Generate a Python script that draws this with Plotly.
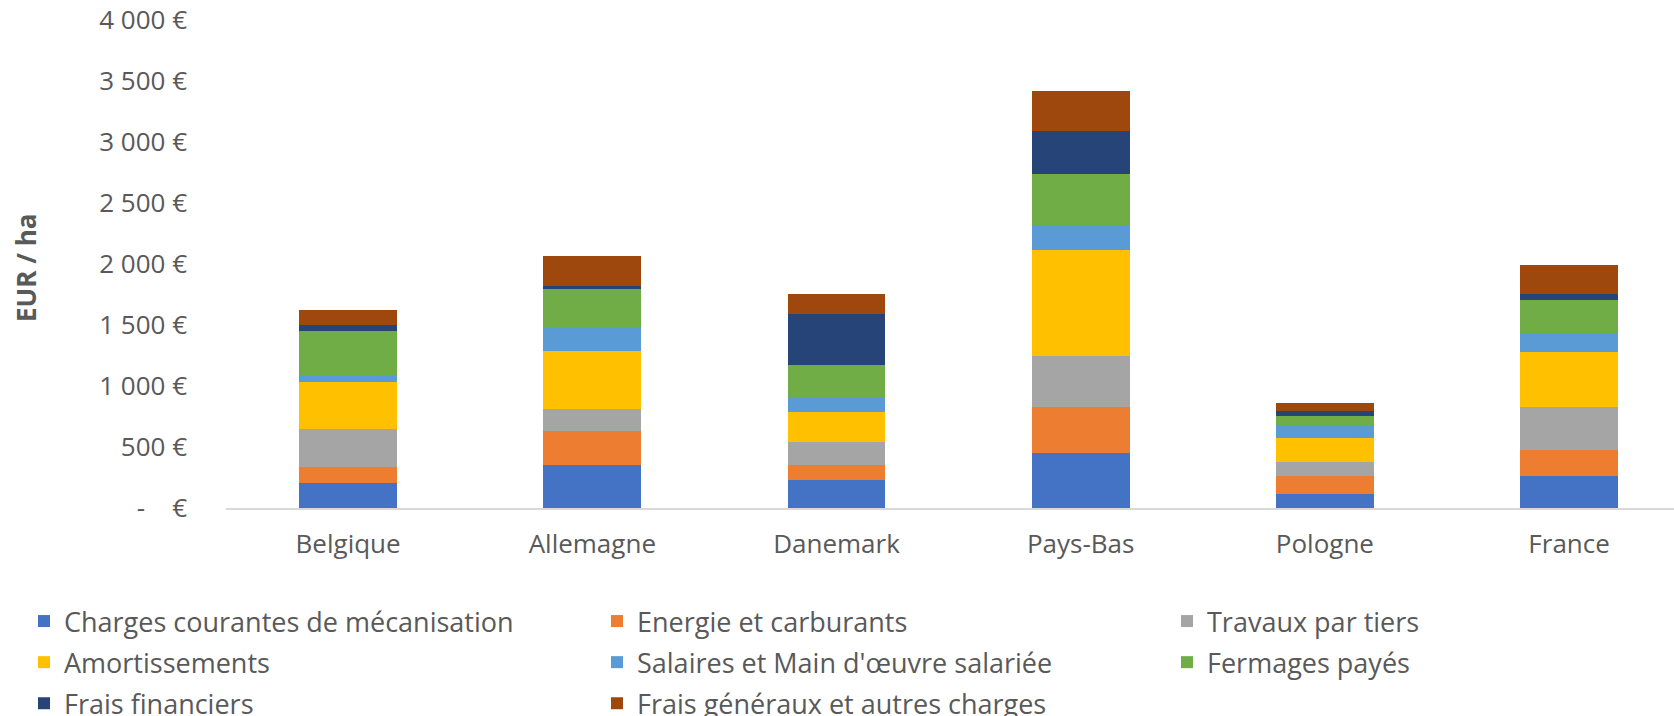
import plotly.graph_objects as go

# Coûts de mécanisation par hectare, par pays (EUR / ha)
categories = ["Belgique", "Allemagne", "Danemark", "Pays-Bas", "Pologne", "France"]

mecanisation = [202, 350, 232, 454, 112, 262]
energie = [132, 284, 121, 374, 150, 211]
travaux = [311, 178, 191, 419, 118, 355]
amortissements = [391, 476, 241, 864, 194, 449]
salaires = [57, 194, 117, 207, 104, 161]
fermages = [359, 312, 268, 416, 74, 270]
financiers = [44, 29, 419, 358, 46, 45]
frais_generaux = [123, 241, 164, 328, 61, 238]

series_names = [
    "Charges courantes de mécanisation",
    "Energie et carburants",
    "Travaux par tiers",
    "Amortissements",
    "Salaires et Main d'œuvre salariée",
    "Fermages payés",
    "Frais financiers",
    "Frais généraux et autres charges",
]
series_values = [mecanisation, energie, travaux, amortissements,
                 salaires, fermages, financiers, frais_generaux]
colors = ["#4472C4", "#ED7D31", "#A5A5A5", "#FFC000",
          "#5B9BD5", "#70AD47", "#264478", "#9E480E"]

tick_vals = [0, 500, 1000, 1500, 2000, 2500, 3000, 3500, 4000]
tick_text = ["-\u00a0\u00a0\u00a0\u00a0€", "500 €", "1 000 €", "1 500 €", "2 000 €",
             "2 500 €", "3 000 €", "3 500 €", "4 000 €"]

W, H = 1674, 716
FONT = "Open Sans"
TXT = "#595959"

# legend laid out in three columns (one legend per column)
legend_for = ["legend", "legend2", "legend3"]

fig = go.Figure()
for i, (name, vals, col) in enumerate(zip(series_names, series_values, colors)):
    fig.add_trace(go.Bar(
        x=categories, y=vals, name=name,
        marker=dict(color=col, line=dict(width=0)),
        width=0.4,
        legend=legend_for[i % 3],
        legendgroup=f"g{i}",
    ))

col_text_x = [64, 637, 1207]
top_px = 597


def legend_cfg(text_x):
    return dict(
        xref="container", yref="container",
        x=(text_x - 40) / W, y=1 - top_px / H,
        xanchor="left", yanchor="top",
        orientation="v", traceorder="grouped", tracegroupgap=3,
        font=dict(family=FONT, size=27, color=TXT),
        bgcolor="rgba(0,0,0,0)", borderwidth=0,
    )


plot_left, plot_right = 226, W
px_per_cat = 244.2
x_max = -0.5 + (plot_right - plot_left) / px_per_cat

fig.update_layout(
    template="none",
    width=W, height=H,
    margin=dict(l=plot_left, r=W - plot_right, t=20, b=H - 508, pad=0,
                autoexpand=False),
    paper_bgcolor="white", plot_bgcolor="white",
    barmode="stack",
    showlegend=True,
    legend=legend_cfg(col_text_x[0]),
    legend2=legend_cfg(col_text_x[1]),
    legend3=legend_cfg(col_text_x[2]),
    font=dict(family=FONT, color=TXT),
    xaxis=dict(
        range=[-0.5, x_max], automargin=False,
        showgrid=False, zeroline=False,
        showline=True, linecolor="#D9D9D9", linewidth=2,
        ticks="", ticklabelstandoff=12,
        tickfont=dict(family=FONT, size=26, color=TXT),
        fixedrange=True,
    ),
    yaxis=dict(
        range=[0, 4000], automargin=False,
        tickvals=tick_vals, ticktext=tick_text,
        showgrid=False, zeroline=False, showline=False,
        ticks="", ticklabelstandoff=38,
        tickfont=dict(family=FONT, size=26, color=TXT),
        fixedrange=True,
    ),
    annotations=[dict(
        text="<b>EUR / ha</b>", textangle=-90,
        xref="paper", yref="paper",
        x=(26 - plot_left) / (plot_right - plot_left),
        y=(508 - 268) / 488,
        xanchor="center", yanchor="middle", showarrow=False,
        font=dict(family=FONT, size=26, color=TXT),
    )],
)

fig.write_html("out.html")
